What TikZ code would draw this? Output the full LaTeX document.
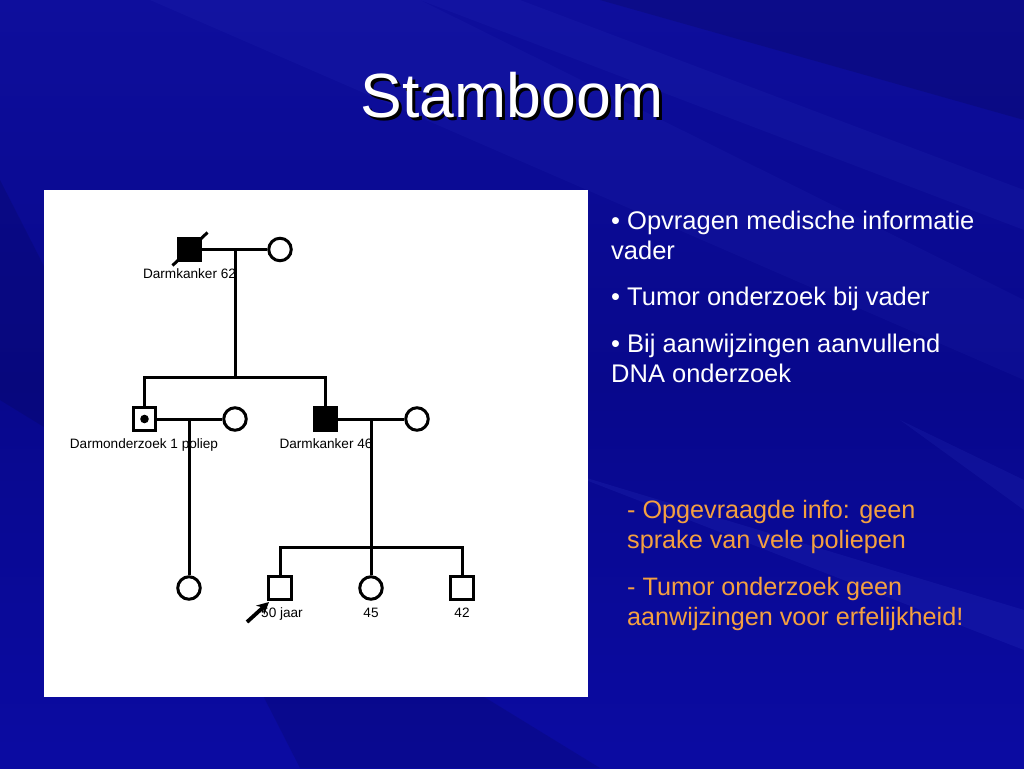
\documentclass[tikz,border=0pt]{standalone}
\usepackage{fontspec}
\setmainfont{Liberation Sans}
\usetikzlibrary{arrows.meta,calc}
\definecolor{bgtop}{HTML}{0E0E9C}
\definecolor{bgmid}{HTML}{08088C}
\definecolor{bgbot}{HTML}{0B0BA2}
\definecolor{streak}{HTML}{4A5AE0}
\definecolor{orangetxt}{HTML}{F4A040}
\tikzset{
  male/.style={draw=black, line width=3pt, rectangle, minimum size=22.5pt, inner sep=0pt, fill=white},
  female/.style={draw=black, line width=3pt, circle, minimum size=22.5pt, inner sep=0pt, fill=white},
  affected/.style={fill=black},
  link/.style={draw=black, line width=3pt},
  plabel/.style={font=\fontsize{13.6}{15}\selectfont, text=black, inner sep=0pt, anchor=base},
  wline/.style={font=\fontsize{25.5}{30}\selectfont, text=white, anchor=base west, inner sep=0pt},
  oline/.style={font=\fontsize{25.2}{30}\selectfont, text=orangetxt, anchor=base west, inner sep=0pt},
  ttl/.style={font=\fontsize{62.5}{64}\selectfont, anchor=base, inner sep=0pt},
}
\begin{document}
\begin{tikzpicture}[x=1pt,y=-1pt]
\useasboundingbox (0,0) rectangle (1024,768);
% background
\shade[top color=bgtop, bottom color=bgbot, middle color=bgmid] (0,0) rectangle (1024,768);
\fill[streak, opacity=0.07] (150,0) -- (420,0) -- (1024,300) -- (1024,380) -- cycle;
\fill[streak, opacity=0.08] (420,0) -- (520,0) -- (1024,190) -- (1024,230) -- cycle;
\fill[streak, opacity=0.12] (560,470) -- (1024,610) -- (1024,650) -- cycle;
\fill[streak, opacity=0.10] (900,420) -- (1024,480) -- (1024,510) -- cycle;
\fill[black, opacity=0.10] (0,180) -- (0,400) -- (600,768) -- (300,768) -- cycle;
\fill[black, opacity=0.12] (600,0) -- (1024,0) -- (1024,120) -- cycle;
% title with shadow
\node[ttl, text=black] (titleshadow) at (515,120) {Stamboom};
\node[ttl, text=white] (title) at (512,117) {Stamboom};
% white panel
\fill[white] (44,190) rectangle (588,697);
% persons
\node[male, affected] (gf) at (189.5,249.5) {};
\node[female] (gm) at (280,249.5) {};
\node[male] (s1) at (144.5,419) {};
\fill[black] (s1.center) circle (4.3pt);
\node[female] (w1) at (235,419) {};
\node[male, affected] (s2) at (325.5,419) {};
\node[female] (w2) at (417,419) {};
\node[female] (c1) at (189,588) {};
\node[male] (c2) at (280,588) {};
\node[female] (c3) at (371,588) {};
\node[male] (c4) at (462,588) {};
% deceased slash
\draw[black, line width=3pt] ($(gf.center)+(-17,16)$) coordinate (d1) -- ($(gf.center)+(18,-17)$) coordinate (d2);
% generation 1 links
\coordinate (m1) at (235,249.5);
\coordinate (sib1) at (235,377);
\coordinate (sib1l) at (144.5,377);
\coordinate (sib1r) at (325.5,377);
\draw[link] (gf) -- (gm);
\draw[link] (m1) -- (sib1);
\draw[link, line cap=rect] (sib1l) -- (sib1r);
\draw[link] (sib1l) -- (s1);
\draw[link] (sib1r) -- (s2);
% generation 2 links
\coordinate (m2) at (189,419);
\coordinate (m3) at (371,419);
\coordinate (sib2) at (371,547);
\coordinate (sib2l) at (280,547);
\coordinate (sib2r) at (462,547);
\draw[link] (s1) -- (w1);
\draw[link] (m2) -- (c1);
\draw[link] (s2) -- (w2);
\draw[link] (m3) -- (sib2);
\draw[link, line cap=rect] (sib2l) -- (sib2r);
\draw[link] (sib2l) -- (c2);
\draw[link] (sib2) -- (c3);
\draw[link] (sib2r) -- (c4);
% labels
\node[plabel] (l1) at (189.5,278) {Darmkanker 62};
\node[plabel] (l2) at (144,448) {Darmonderzoek 1 poliep};
\node[plabel] (l3) at (326,448) {Darmkanker 46};
\node[plabel] (l4) at (282,617.5) {50 jaar};
\node[plabel] (l5) at (371,617.5) {45};
\node[plabel] (l6) at (462,617.5) {42};
% proband arrow
\coordinate (pa) at (247,622);
\coordinate (pb) at (269,602);
\draw[black, line width=3.8pt, -{Stealth[length=12pt,width=12pt]}] (pa) -- (pb);
% right text
\node[wline] (b1a) at (611,229) {• Opvragen medische informatie};
\node[wline] (b1b) at (611,259) {vader};
\node[wline] (b2) at (611,305) {• Tumor onderzoek bij vader};
\node[wline] (b3a) at (611,352) {• Bij aanwijzingen aanvullend};
\node[wline] (b3b) at (611,382) {DNA onderzoek};
\node[oline] (o1a) at (627,518) {- Opgevraagde info: geen};
\node[oline] (o1b) at (627,548) {sprake van vele poliepen};
\node[oline] (o2a) at (627,595) {- Tumor onderzoek geen};
\node[oline] (o2b) at (627,625) {aanwijzingen voor erfelijkheid!};
\end{tikzpicture}
\end{document}
